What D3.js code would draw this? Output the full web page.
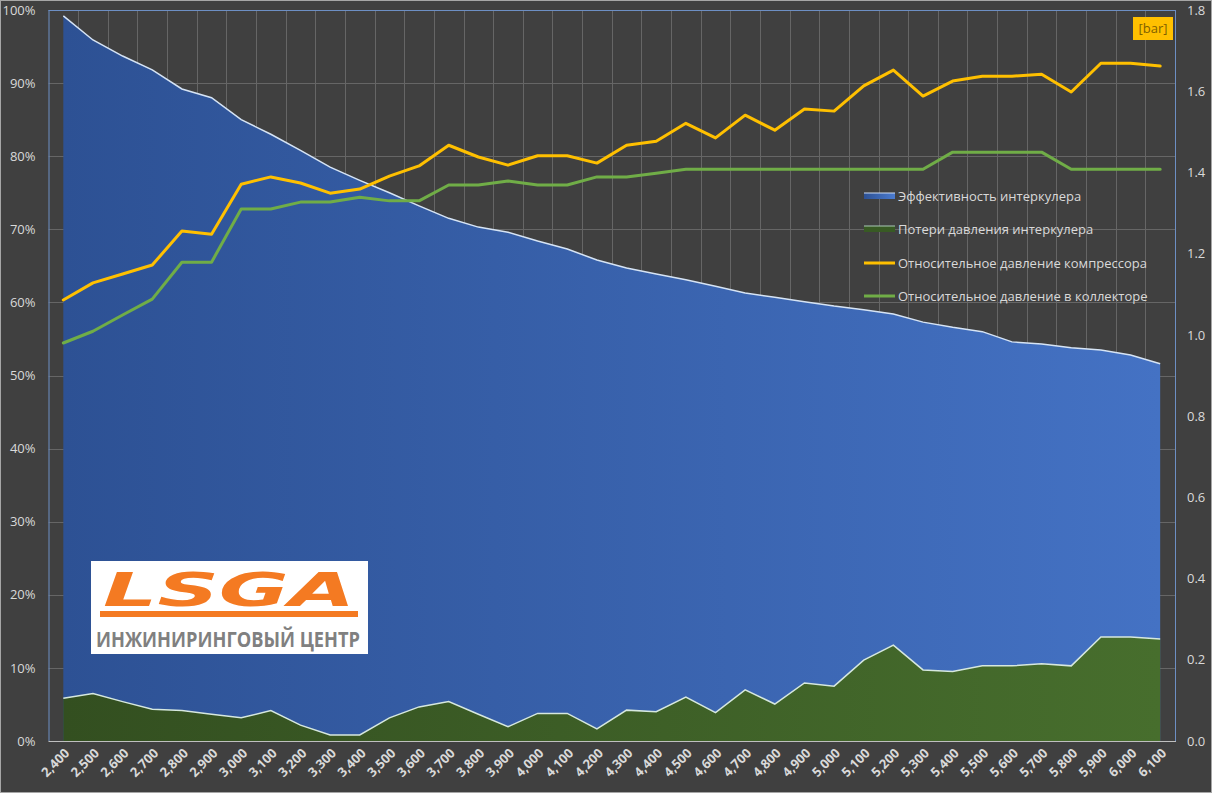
<!DOCTYPE html>
<html><head><meta charset="utf-8">
<script src="https://cdn.jsdelivr.net/npm/d3@7"></script>
<style>
html,body{margin:0;padding:0;background:#404040;}
svg{display:block;font-family:"Open Sans","Noto Sans",sans-serif;}
</style></head>
<body>
<svg id="chart" width="1212" height="793"></svg>
<script>
const categories = ["2,400","2,500","2,600","2,700","2,800","2,900","3,000","3,100","3,200","3,300","3,400","3,500","3,600","3,700","3,800","3,900","4,000","4,100","4,200","4,300","4,400","4,500","4,600","4,700","4,800","4,900","5,000","5,100","5,200","5,300","5,400","5,500","5,600","5,700","5,800","5,900","6,000","6,100"];
// Эффективность интеркулера, %
const efficiency = [99.2,95.9,93.7,91.8,89.2,88.0,85.0,83.0,80.8,78.5,76.7,75.0,73.2,71.5,70.3,69.6,68.4,67.3,65.8,64.7,63.9,63.1,62.2,61.3,60.7,60.1,59.5,59.0,58.4,57.3,56.6,56.0,54.6,54.3,53.8,53.5,52.8,51.6];
// Потери давления интеркулера, bar
const pressureLoss = [0.105,0.117,0.097,0.078,0.075,0.066,0.057,0.075,0.039,0.015,0.015,0.057,0.084,0.097,0.066,0.035,0.068,0.068,0.030,0.076,0.072,0.108,0.070,0.126,0.091,0.143,0.135,0.199,0.236,0.175,0.171,0.185,0.185,0.190,0.185,0.256,0.256,0.251];
// Относительное давление компрессора, bar
const compressorPressure = [1.086,1.128,1.150,1.172,1.256,1.248,1.371,1.389,1.374,1.349,1.359,1.391,1.416,1.467,1.438,1.418,1.441,1.441,1.423,1.467,1.477,1.521,1.485,1.541,1.504,1.556,1.551,1.613,1.652,1.588,1.625,1.637,1.637,1.642,1.598,1.669,1.669,1.662];
// Относительное давление в коллекторе, bar
const manifoldPressure = [0.980,1.009,1.049,1.088,1.179,1.179,1.310,1.310,1.327,1.327,1.339,1.330,1.330,1.369,1.369,1.379,1.369,1.369,1.389,1.389,1.398,1.408,1.408,1.408,1.408,1.408,1.408,1.408,1.408,1.408,1.450,1.450,1.450,1.450,1.408,1.408,1.408,1.408];
const leftTicks = [0,0.1,0.2,0.3,0.4,0.5,0.6,0.7,0.8,0.9,1.0];
const rightTicks = [0,0.2,0.4,0.6,0.8,1.0,1.2,1.4,1.6,1.8];
const seriesNames = ["Эффективность интеркулера","Потери давления интеркулера","Относительное давление компрессора","Относительное давление в коллекторе"];

const svg = d3.select("#chart");
const W = 1212, H = 793;
const L = 48.5, R = 1175, T = 10, B = 741;

svg.append("rect").attr("x",0.5).attr("y",0.5).attr("width",W-1).attr("height",H-1)
  .attr("fill","#404040").attr("stroke","#a6a6a6");

const x = d3.scaleBand().domain(categories).range([L,R]).padding(0);
const cx = c => x(c) + x.bandwidth()/2;
const yL = d3.scaleLinear().domain([0,1]).range([B,T]);
const yR = d3.scaleLinear().domain([0,1.8]).range([B,T]);

const defs = svg.append("defs");
const gb = defs.append("linearGradient").attr("id","gBlue").attr("gradientUnits","userSpaceOnUse")
  .attr("x1",cx(categories[0])).attr("x2",cx(categories[categories.length-1])).attr("y1",0).attr("y2",0);
gb.append("stop").attr("offset","0%").attr("stop-color","#2d5194");
gb.append("stop").attr("offset","100%").attr("stop-color","#4472c4");
const gg = defs.append("linearGradient").attr("id","gGreen").attr("gradientUnits","userSpaceOnUse")
  .attr("x1",cx(categories[0])).attr("x2",cx(categories[categories.length-1])).attr("y1",0).attr("y2",0);
gg.append("stop").attr("offset","0%").attr("stop-color","#334f20");
gg.append("stop").attr("offset","100%").attr("stop-color","#476e2d");
const gbl = defs.append("linearGradient").attr("id","gBlueL").attr("x1",0).attr("x2",1);
gbl.append("stop").attr("offset","0%").attr("stop-color","#2d5194");
gbl.append("stop").attr("offset","100%").attr("stop-color","#4a7bd0");

// gridlines
const grid = svg.append("g").attr("stroke","#666666").attr("stroke-width",1);
leftTicks.forEach(t=>{ if(t>0 && t<1) grid.append("line").attr("x1",L).attr("x2",R).attr("y1",Math.round(yL(t))+0.5).attr("y2",Math.round(yL(t))+0.5); });
categories.forEach((c,i)=>{ if(i>0) grid.append("line").attr("x1",Math.round(x(c))+0.5).attr("x2",Math.round(x(c))+0.5).attr("y1",T).attr("y2",B); });

// areas
const idx = d3.range(categories.length);
const areaEff = d3.area().x(i=>cx(categories[i])).y0(B).y1(i=>yL(efficiency[i]/100));
svg.append("path").datum(idx).attr("d",areaEff).attr("fill","url(#gBlue)");
svg.append("path").datum(idx).attr("d",d3.line().x(i=>cx(categories[i])).y(i=>yL(efficiency[i]/100)))
  .attr("fill","none").attr("stroke","#d6e4f5").attr("stroke-width",1.5);

const areaLoss = d3.area().x(i=>cx(categories[i])).y0(B).y1(i=>yR(pressureLoss[i]));
svg.append("path").datum(idx).attr("d",areaLoss).attr("fill","url(#gGreen)");
svg.append("path").datum(idx).attr("d",d3.line().x(i=>cx(categories[i])).y(i=>yR(pressureLoss[i])))
  .attr("fill","none").attr("stroke","#d6e8df").attr("stroke-width",1.5);

// lines
svg.append("path").datum(idx).attr("d",d3.line().x(i=>cx(categories[i])).y(i=>yR(manifoldPressure[i])))
  .attr("fill","none").attr("stroke","#70ad47").attr("stroke-width",3).attr("stroke-linejoin","round").attr("stroke-linecap","round");
svg.append("path").datum(idx).attr("d",d3.line().x(i=>cx(categories[i])).y(i=>yR(compressorPressure[i])))
  .attr("fill","none").attr("stroke","#ffc000").attr("stroke-width",3).attr("stroke-linejoin","round").attr("stroke-linecap","round");

// plot border
svg.append("line").attr("x1",L).attr("x2",R).attr("y1",T+0.5).attr("y2",T+0.5).attr("stroke","#6d8fc4");
svg.append("line").attr("x1",L+0.5).attr("x2",L+0.5).attr("y1",T).attr("y2",B).attr("stroke","#6d8fc4");
svg.append("line").attr("x1",R+0.5).attr("x2",R+0.5).attr("y1",T).attr("y2",B).attr("stroke","#6d8fc4");
svg.append("line").attr("x1",L).attr("x2",R+1).attr("y1",B+0.5).attr("y2",B+0.5).attr("stroke","#bfbfbf");

// axes
const axL = svg.append("g").attr("transform",`translate(${L},0)`)
  .call(d3.axisLeft(yL).tickValues(leftTicks).tickFormat(d3.format(".0%")).tickSize(0).tickPadding(13));
const axR = svg.append("g").attr("transform",`translate(${R},0)`)
  .call(d3.axisRight(yR).tickValues(rightTicks).tickFormat(d3.format(".1f")).tickSize(0).tickPadding(12));
[axL,axR].forEach(a=>{ a.select(".domain").remove();
  a.selectAll("text").attr("fill","#d9d9d9").style("font-size","13px").style("font-family","'Open Sans',sans-serif"); });

const axB = svg.append("g").attr("transform",`translate(0,${B})`)
  .call(d3.axisBottom(x).tickSize(0).tickPadding(0));
axB.select(".domain").remove();
axB.selectAll("text").attr("fill","#d9d9d9").style("font-size","13px").style("font-weight","bold")
  .style("font-family","'Open Sans',sans-serif")
  .attr("text-anchor","end").attr("dy",null).attr("y",0)
  .attr("transform","translate(7,13) rotate(-45)");

// legend
const lg = svg.append("g");
const ly = [196,229,263,296];
lg.append("rect").attr("x",864).attr("y",ly[0]-3).attr("width",31).attr("height",6).attr("fill","url(#gBlueL)");
lg.append("line").attr("x1",864).attr("x2",895).attr("y1",ly[0]-3).attr("y2",ly[0]-3).attr("stroke","#c9d8ef").attr("stroke-width",1);
lg.append("rect").attr("x",864).attr("y",ly[1]-3).attr("width",31).attr("height",6).attr("fill","#385a24");
lg.append("line").attr("x1",864).attr("x2",895).attr("y1",ly[1]-3).attr("y2",ly[1]-3).attr("stroke","#a9c9b6").attr("stroke-width",1);
lg.append("line").attr("x1",864).attr("x2",895).attr("y1",ly[2]).attr("y2",ly[2]).attr("stroke","#ffc000").attr("stroke-width",3);
lg.append("line").attr("x1",864).attr("x2",895).attr("y1",ly[3]).attr("y2",ly[3]).attr("stroke","#70ad47").attr("stroke-width",3);
seriesNames.forEach((n,i)=>{
  lg.append("text").attr("x",898).attr("y",ly[i]).attr("dy","0.35em").attr("fill","#d9d9d9")
    .style("font-size","13px").text(n);
});

// [bar] label
svg.append("rect").attr("x",1133).attr("y",17).attr("width",40).attr("height",23).attr("fill","#ffc000");
svg.append("text").attr("x",1153).attr("y",28.5).attr("dy","0.35em").attr("text-anchor","middle")
  .attr("fill","#7f5f00").style("font-size","13px").text("[bar]");

// logo
const lo = svg.append("g");
lo.append("rect").attr("x",91).attr("y",561).attr("width",277).attr("height",93).attr("fill","#ffffff");
lo.append("text").attr("x",103).attr("y",606).attr("fill","#f47a22")
  .style("font-family","'DejaVu Sans',sans-serif").style("font-weight","bold").style("font-style","italic")
  .style("font-size","46px").attr("textLength",252).attr("lengthAdjust","spacingAndGlyphs").text("LSGA");
lo.append("rect").attr("x",100).attr("y",611).attr("width",258).attr("height",6).attr("fill","#f47a22");
lo.append("text").attr("x",96).attr("y",647).attr("fill","#808080")
  .style("font-family","'Open Sans',sans-serif").style("font-weight","bold")
  .style("font-size","21px").attr("textLength",264).attr("lengthAdjust","spacingAndGlyphs").text("ИНЖИНИРИНГОВЫЙ ЦЕНТР");
</script>
</body></html>
